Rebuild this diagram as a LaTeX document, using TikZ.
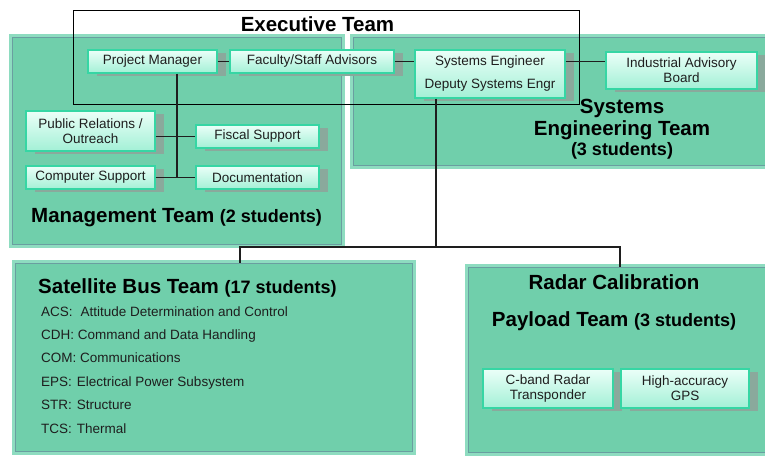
\documentclass[tikz,border=0pt]{standalone}
\usepackage{fontspec}
\setmainfont{Liberation Sans}
\usetikzlibrary{shadows}

\definecolor{panelfill}{HTML}{70CFAB}
\definecolor{panelglow}{HTML}{8EDCC0}
\definecolor{paneledge}{HTML}{6A9EA0}
\definecolor{boxtop}{HTML}{EBFFF8}
\definecolor{boxbottom}{HTML}{A3F0D6}
\definecolor{boxedge}{HTML}{36D6A4}
\definecolor{boxshadow}{HTML}{8AA99C}
\definecolor{ink}{HTML}{1E1E1E}

\tikzset{
  panel/.style={rectangle, draw=paneledge, line width=1pt, fill=panelfill, inner sep=0pt,
    preaction={draw=panelglow, line width=7pt}},
  unitbox/.style={rectangle, draw=boxedge, line width=1.2pt, top color=boxtop, bottom color=boxbottom,
    inner sep=0pt, align=center, text=ink, font=\fontsize{13.5}{15}\selectfont,
    drop shadow={shadow xshift=9pt, shadow yshift=-3pt, fill=boxshadow, opacity=1}},
  link/.style={draw=ink, line width=1.3pt},
  bigtitle/.style={font=\fontsize{20.5}{24}\selectfont\bfseries, inner sep=0pt, text=black},
  subtitle/.style={font=\fontsize{18}{20}\selectfont\bfseries, inner sep=0pt, text=black},
  listitem/.style={font=\fontsize{13.5}{16}\selectfont, inner sep=0pt, anchor=base west, text=ink},
}
\newcommand{\headcount}[1]{{\fontsize{18}{20}\selectfont #1}}

\begin{document}
\begin{tikzpicture}[x=1pt, y=-1pt]
  \useasboundingbox (0,0) rectangle (765,455);

  % team panels
  \node[panel, minimum width=329pt, minimum height=207pt] (mgmt) at (176.5,140.5) {};
  \node[panel, minimum width=422pt, minimum height=128pt] (seteam) at (564,101) {};
  \node[panel, minimum width=397pt, minimum height=188pt] (sb) at (213.5,357) {};
  \node[panel, minimum width=307pt, minimum height=185pt] (rc) at (621.5,359.5) {};

  % executive team frame
  \node[draw=black, line width=1pt, minimum width=506pt, minimum height=94pt, inner sep=0pt] (exec) at (326,57) {};
  \node[bigtitle, anchor=base] (exectitle) at (317.5,31) {Executive Team};

  % junction points
  \coordinate (mgmtspine) at (177,178);
  \coordinate (busmid) at (436,247);
  \coordinate (busleft) at (240,247);
  \coordinate (busright) at (620,247);

  % unit boxes
  \node[unitbox, minimum width=129pt, minimum height=23pt] (pm) at (152.5,61.5) {Project Manager};
  \node[unitbox, minimum width=164pt, minimum height=23pt] (fac) at (312,61.5) {Faculty/Staff Advisors};
  \node[unitbox, minimum width=150pt, minimum height=48pt, font=\fontsize{13.5}{23}\selectfont] (se) at (490,74) {Systems Engineer\\Deputy Systems Engr};
  \node[unitbox, minimum width=151pt, minimum height=37pt] (iab) at (681.5,70.5) {Industrial Advisory\\Board};
  \node[unitbox, minimum width=129pt, minimum height=40pt] (pr) at (90.5,131) {Public Relations /\\Outreach};
  \node[unitbox, minimum width=123pt, minimum height=23pt] (fs) at (257.5,136.5) {Fiscal Support};
  \node[unitbox, minimum width=129pt, minimum height=23pt] (cs) at (90.5,177.5) {Computer Support};
  \node[unitbox, minimum width=123pt, minimum height=23pt] (doc) at (257.5,177.5) {Documentation};
  \node[unitbox, minimum width=130pt, minimum height=39pt] (cb) at (548,388.5) {C-band Radar\\Transponder};
  \node[unitbox, minimum width=128pt, minimum height=39pt] (gps) at (685,388.5) {High-accuracy\\GPS};

  % connectors
  \draw[link] (pm.east) -- (fac.west);
  \draw[link] (fac.east) -- (fac.east -| se.west);
  \draw[link] (fac.east -| se.east) -- (fac.east -| iab.west);
  \draw[link] (pm.south -| mgmtspine) -- (mgmtspine);
  \draw[link] (pr.east |- fs.west) -- (fs.west);
  \draw[link] (cs.east) -- (doc.west);
  \draw[link] (se.south -| busmid) -- (busmid);
  \draw[link] (busleft |- sb.north) -- (busleft) -- (busright) -- (busright |- rc.north);

  % panel titles
  \node[bigtitle, anchor=base west] (mgmttitle) at (31,222) {Management Team \headcount{(2 students)}};
  \node[bigtitle, anchor=base] (setitle) at (622,113) {Systems};
  \node[bigtitle, anchor=base] (setitleb) at (622,135) {Engineering Team};
  \node[subtitle, anchor=base] (setitlec) at (622,155) {(3 students)};
  \node[bigtitle, anchor=base west] (sbtitle) at (38,293) {Satellite Bus Team \headcount{(17 students)}};
  \node[bigtitle, anchor=base] (rctitle) at (614,289) {Radar Calibration};
  \node[bigtitle, anchor=base] (rctitleb) at (614,326) {Payload Team \headcount{(3 students)}};

  % satellite bus subsystems
  \node[listitem] (acs) at (41,316) {ACS:\hspace{8pt}Attitude Determination and Control};
  \node[listitem] (cdh) at (41,339.4) {CDH: Command and Data Handling};
  \node[listitem] (com) at (41,362.8) {COM: Communications};
  \node[listitem] (eps) at (41,386.2) {EPS:\hspace{5pt}Electrical Power Subsystem};
  \node[listitem] (str) at (41,409.6) {STR:\hspace{5pt}Structure};
  \node[listitem] (tcs) at (41,433) {TCS:\hspace{5pt}Thermal};
\end{tikzpicture}
\end{document}
